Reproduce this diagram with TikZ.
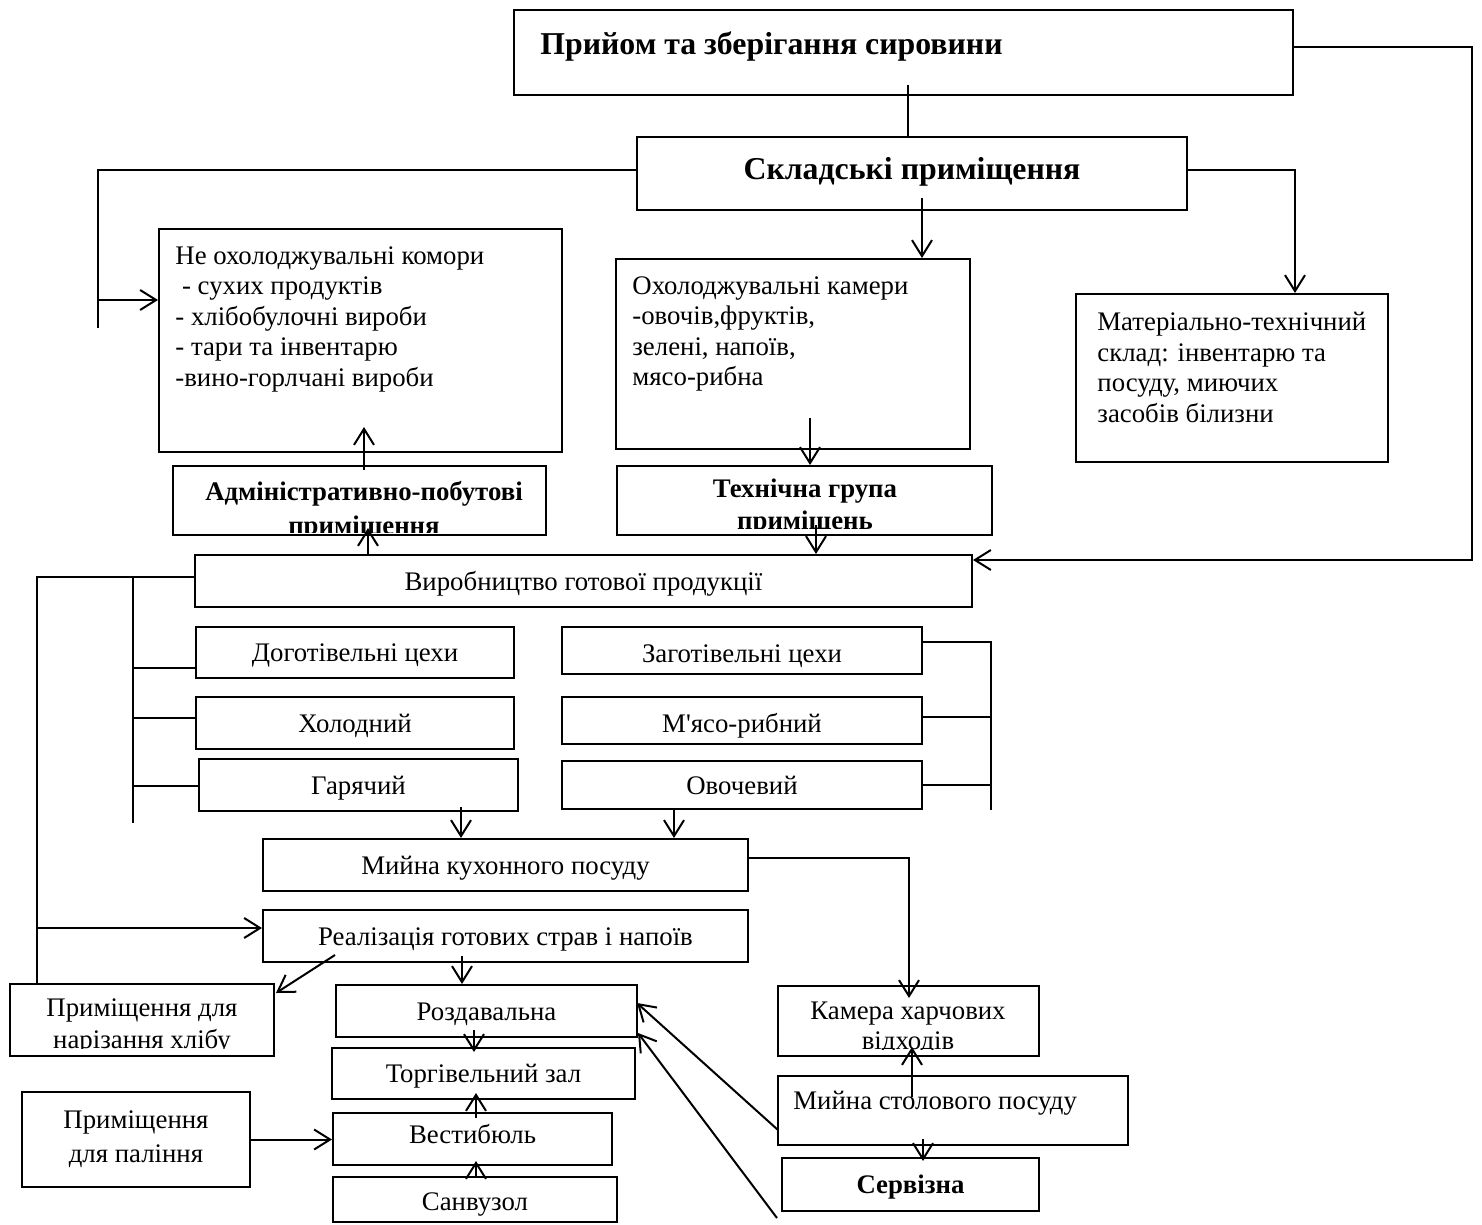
\documentclass[tikz,border=0pt]{standalone}
\usepackage{fontspec}
\setmainfont{Liberation Serif}
\usetikzlibrary{arrows.meta}
\usetikzlibrary{calc}

\tikzset{
    box/.style={draw, line width=1pt, inner sep=0pt},
    sz/.style 2 args={minimum width=#1*0.5pt, minimum height=#2*0.5pt},
    txt/.style={font=\fontsize{13.4}{15.25}\selectfont, inner sep=0pt},
    cell/.style={box, txt, text height=10.5pt, text depth=1.5pt},
    btxt/.style={font=\fontsize{13.4}{15}\selectfont\bfseries, inner sep=0pt},
    big/.style={font=\fontsize{15.9}{18}\selectfont\bfseries, inner sep=0pt},
    conn/.style={line width=1pt},
    >={Straight Barb[length=8pt,width=10pt]}
}

\begin{document}
\begin{tikzpicture}[x=0.5pt, y=-0.5pt]
        \useasboundingbox (0,0) rectangle (1482,1225);

        \node[box, sz={779}{85}] (priyom) at (903.5,52.5) {};
        \node[big, anchor=base west] (t-priyom) at (540,55) {Прийом та зберігання сировини};
        \node[box, sz={550}{73}] (skl) at (912,173.5) {};
        \node[big, anchor=base] (t-skl) at (912,180) {Складські приміщення};

        \node[box, sz={403}{223}] (nokh) at (360.5,340.5) {};
        \node[txt, anchor=north west, align=left] (t-nokh) at (175,246)
            {Не охолоджувальні комори\\\ - сухих продуктів\\- хлібобулочні вироби\\- тари та інвентарю\\-вино-горлчані вироби};
        \node[box, sz={354}{190}] (okh) at (793,354) {};
        \node[txt, anchor=north west, align=left] (t-okh) at (632,276)
            {Охолоджувальні камери\\-овочів,фруктів,\\зелені, напоїв,\\мясо-рибна};
        \node[box, sz={312}{168}] (mat) at (1232,378) {};
        \node[txt, anchor=north west, align=left] (t-mat) at (1097,312)
            {Матеріально-технічний\\склад: інвентарю та\\посуду, миючих\\засобів білизни};

        \node[box, sz={373}{69}] (adm) at (359.5,500.5) {};
        \begin{scope}
            \clip (adm.north west) rectangle ($(adm.south east)+(0,-4)$);
            \node[btxt, align=center, anchor=north, font=\fontsize{13.4}{17}\selectfont\bfseries] (t-adm) at (364,480.5) {Адміністративно-побутові\\приміщення};
        \end{scope}
        \node[box, sz={375}{69}] (teh) at (804.5,500.5) {};
        \begin{scope}
            \clip (teh.north west) rectangle ($(teh.south east)+(0,-8)$);
            \node[btxt, align=center, anchor=north, font=\fontsize{13.4}{16}\selectfont\bfseries] (t-teh) at (805,478.5) {Технічна група\\приміщень};
        \end{scope}

        \node[cell, sz={777}{52}] (vyr) at (583.5,581) {Виробництво готової продукції};
        \node[cell, sz={318}{51}] (dog) at (355,652.5) {Доготівельні цехи};
        \node[cell, sz={318}{52}] (khol) at (355,723) {Холодний};
        \node[cell, sz={319}{52}] (gar) at (358.5,785) {Гарячий};
        \node[cell, sz={360}{47}, text height=13.5pt] (zag) at (742,650.5) {Заготівельні цехи};
        \node[cell, sz={360}{47}, text height=13.5pt] (mr) at (742,720.5) {М\textquotesingle ясо-рибний};
        \node[cell, sz={360}{48}, text height=11pt] (ovo) at (742,785) {Овочевий};

        \node[cell, sz={485}{52}] (myk) at (505.5,865) {Мийна кухонного посуду};
        \node[cell, sz={485}{52}] (real) at (505.5,936) {Реалізація готових страв і напоїв};

        \node[box, sz={264}{72}] (khlib) at (142,1020) {};
        \begin{scope}
            \clip (khlib.north west) rectangle ($(khlib.south east)+(0,-9)$);
            \node[txt, align=center, anchor=north, font=\fontsize{13.4}{16}\selectfont] (t-khlib) at (142,998.5) {Приміщення для\\нарізання хлібу};
        \end{scope}
        \node[cell, sz={301}{52}] (roz) at (486.5,1011) {Роздавальна};
        \node[cell, sz={303}{51}] (torg) at (483.5,1073.5) {Торгівельний зал};
        \node[cell, sz={279}{52}, text height=7pt, text depth=3pt] (vest) at (472.5,1139) {Вестибюль};
        \node[cell, sz={284}{45}, text height=12.5pt] (san) at (475,1199.5) {Санвузол};
        \node[box, txt, sz={228}{95}, align=center, font=\fontsize{13.4}{17}\selectfont] (pal) at (136,1139.5) {Приміщення\\для паління};

        \node[box, sz={261}{70}] (kam) at (908.5,1021) {};
        \begin{scope}
            \clip (kam.north west) rectangle ($(kam.south east)+(0,-8)$);
            \node[txt, align=center, anchor=north, font=\fontsize{13.4}{15}\selectfont] (t-kam) at (908,1001.5) {Камера харчових\\відходів};
        \end{scope}
        \node[box, sz={350}{69}] (mst) at (953,1110.5) {};
        \node[txt, anchor=base west] (t-mst) at (793,1109) {Мийна столового посуду};
        \node[box, btxt, sz={257}{53}, text height=10.5pt, text depth=1.5pt] (serv) at (910.5,1184.5) {Сервізна};

        \coordinate (c1) at (908,85);
        \coordinate (r1) at (1472,47);
        \coordinate (r2) at (1472,560);
        \coordinate (r3) at (1295,170);
        \coordinate (l1) at (98,170);
        \coordinate (l2) at (98,328);
        \coordinate (l3) at (98,300);
        \coordinate (s1) at (922,198);
        \coordinate (a1) at (364,470);
        \coordinate (a2) at (364,427);
        \coordinate (a4) at (368,528);
        \coordinate (b1) at (810,418);
        \coordinate (b2) at (816,525);
        \coordinate (v1) at (37,577);
        \coordinate (v2) at (133,577);
        \coordinate (v3) at (133,823);
        \coordinate (v4) at (37,928);
        \coordinate (z1) at (991,642);
        \coordinate (z2) at (991,810);
        \coordinate (g1) at (461,807);
        \coordinate (g2) at (674,808);
        \coordinate (m1) at (909,858);
        \coordinate (m2) at (909,998);
        \coordinate (k1) at (335,955);
        \coordinate (k2) at (276,993);
        \coordinate (k3) at (462,956);
        \coordinate (k4) at (474,1030);
        \coordinate (k5) at (474,1052);
        \coordinate (k6) at (476,1118);
        \coordinate (k7) at (476,1093);
        \coordinate (k8) at (476,1178);
        \coordinate (k9) at (476,1161);
        \coordinate (d1) at (778,1130);
        \coordinate (d2) at (637,1003);
        \coordinate (d3) at (777,1218);
        \coordinate (d4) at (638,1033);
        \coordinate (e1) at (912,1097);
        \coordinate (e2) at (912,1047);
        \coordinate (e3) at (923,1139);
        \coordinate (e4) at (923,1161);

        \draw[conn] (c1) -- (c1 |- skl.north);
        \draw[conn,->] (priyom.east |- r1) -- (r1) -- (r2) -- (vyr.east |- r2);
        \draw[conn] (skl.west |- l1) -- (l1) -- (l2);
        \draw[conn,->] (l3) -- (nokh.west |- l3);
        \draw[conn,->] (s1) -- (s1 |- okh.north);
        \draw[conn,->] (skl.east |- r3) -- (r3) -- (r3 |- mat.north);
        \draw[conn,->] (a1) -- (a2);
        \draw[conn,->] (vyr.north -| a4) -- (a4);
        \draw[conn,->] (b1) -- (b1 |- teh.north);
        \draw[conn,->] (b2) -- (b2 |- vyr.north);

        \draw[conn] (vyr.west |- v1) -- (v1) -- (v1 |- khlib.north);
        \draw[conn] (v2) -- (v3);
        \foreach \y/\n in {668/dog, 718/khol, 786/gar}
            \draw[conn] (v2 |- 0,\y) -- (\n.west |- 0,\y);
        \draw[conn] (zag.east |- z1) -- (z1) -- (z2);
        \foreach \y/\n in {717/mr, 785/ovo}
            \draw[conn] (\n.east |- 0,\y) -- (z1 |- 0,\y);

        \draw[conn,->] (g1) -- (g1 |- myk.north);
        \draw[conn,->] (g2) -- (g2 |- myk.north);
        \draw[conn,->] (myk.east |- m1) -- (m1) -- (m2);
        \draw[conn,->] (v4) -- (real.west |- v4);
        \draw[conn,->] (k1) -- (k2);
        \draw[conn,->] (k3) -- (k3 |- roz.north);
        \draw[conn,->] (k4) -- (k5);
        \draw[conn,->] (k6) -- (k7);
        \draw[conn,->] (k8) -- (k9);
        \draw[conn,->] (pal.east) -- (vest.west |- pal.east);
        \draw[conn,->] (d1) -- (d2);
        \draw[conn,->] (d3) -- (d4);
        \draw[conn,->] (e1) -- (e2);
        \draw[conn,->] (e3) -- (e4);
\end{tikzpicture}
\end{document}
